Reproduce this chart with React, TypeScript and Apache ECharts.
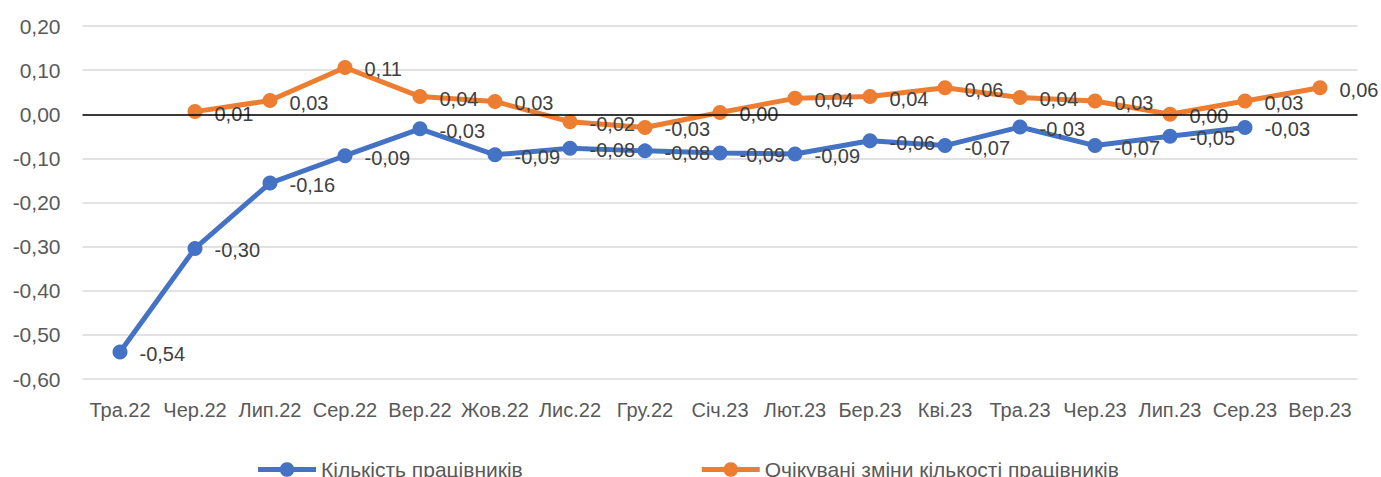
import React, { useEffect, useRef } from 'react';
import * as echarts from 'echarts';

const categories = ['Тра.22', 'Чер.22', 'Лип.22', 'Сер.22', 'Вер.22', 'Жов.22', 'Лис.22', 'Гру.22', 'Січ.23', 'Лют.23', 'Бер.23', 'Кві.23', 'Тра.23', 'Чер.23', 'Лип.23', 'Сер.23', 'Вер.23'];
const employees = [-0.539, -0.304, -0.156, -0.094, -0.033, -0.092, -0.077, -0.083, -0.088, -0.09, -0.06, -0.071, -0.029, -0.071, -0.05, -0.03, null];
const expected = [null, 0.006, 0.031, 0.106, 0.04, 0.029, -0.017, -0.03, 0.004, 0.036, 0.04, 0.06, 0.038, 0.03, 0, 0.03, 0.06];
const seriesNames = ['Кількість працівників', 'Очікувані зміни кількості працівників'];

const fmt = (v: number) => {
  const s = v.toFixed(2).replace('.', ',');
  return s === '-0,00' ? '0,00' : s;
};

const FONT = '"Liberation Sans", Arial, sans-serif';
const LEGEND_ICON = 'path://M0,5.5H22.93A7.5,7.5 0 0 1 37.07,5.5H60V10.5H37.07A7.5,7.5 0 0 1 22.93,10.5H0Z';

export default function App() {
  const ref = useRef<HTMLDivElement>(null);
  useEffect(() => {
    document.body.style.margin = '0';
    const chart = echarts.init(ref.current!, null, { renderer: 'svg' });
    const label = {
      show: true,
      position: 'right',
      distance: 12,
      offset: [0, 2],
      color: '#404040',
      fontSize: 20,
      fontFamily: FONT,
      formatter: (p: any) => fmt(p.value),
    };
    chart.setOption({
      animation: false,
      textStyle: { fontFamily: FONT },
      grid: { left: 82.5, right: 23.5, top: 26, bottom: 98, containLabel: false },
      legend: {
        left: 253,
        top: 454,
        icon: LEGEND_ICON,
        itemWidth: 58,
        itemHeight: 15,
        itemGap: 179,
        textStyle: { fontSize: 21, color: '#595959', fontFamily: FONT },
        data: seriesNames,
      },
      xAxis: {
        type: 'category',
        data: categories,
        boundaryGap: true,
        axisLine: { show: false, onZero: false },
        axisTick: { show: false },
        axisLabel: { interval: 0, color: '#595959', fontSize: 20, fontFamily: FONT, margin: 21 },
        splitLine: { show: false },
      },
      yAxis: {
        type: 'value',
        min: -0.6,
        max: 0.2,
        interval: 0.1,
        axisLine: { show: false },
        axisTick: { show: false },
        axisLabel: { color: '#595959', fontSize: 21, fontFamily: FONT, margin: 22, formatter: (v: number) => fmt(v) },
        splitLine: { lineStyle: { color: '#D9D9D9', width: 1.5 } },
      },
      series: [
        {
          name: seriesNames[0],
          type: 'line',
          data: employees,
          color: '#4472C4',
          lineStyle: { width: 5, color: '#4472C4' },
          symbol: 'circle',
          symbolSize: 15,
          itemStyle: { color: '#4472C4' },
          label,
          markLine: {
            silent: true,
            symbol: 'none',
            label: { show: false },
            lineStyle: { color: '#000000', width: 1.5, type: 'solid' },
            data: [{ yAxis: 0 }],
          },
          z: 3,
        },
        {
          name: seriesNames[1],
          type: 'line',
          data: expected,
          color: '#ED7D31',
          lineStyle: { width: 5, color: '#ED7D31' },
          symbol: 'circle',
          symbolSize: 15,
          itemStyle: { color: '#ED7D31' },
          label,
          z: 4,
        },
      ],
    });
    return () => chart.dispose();
  }, []);
  return <div ref={ref} style={{ width: 1381, height: 477 }} />;
}
